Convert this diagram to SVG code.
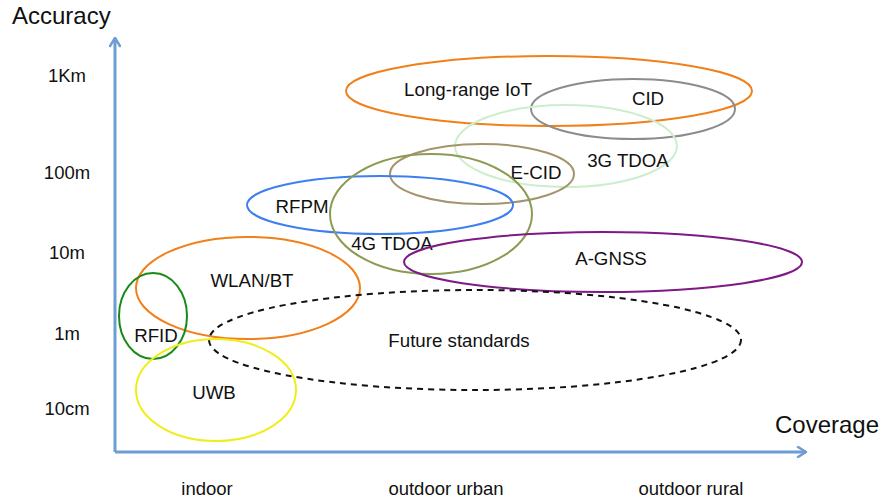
<svg xmlns="http://www.w3.org/2000/svg" width="883" height="500" viewBox="0 0 883 500">
  <defs>
    <marker id="arrow" viewBox="0 0 12 12" refX="10" refY="6" markerWidth="12" markerHeight="12" markerUnits="userSpaceOnUse" orient="auto">
      <path d="M2,1 L10,6 L2,11" fill="none" stroke="#6d9dd2" stroke-width="2.5" stroke-linecap="round" stroke-linejoin="round"/>
    </marker>
  </defs>
  <style>
    text { font-family: "Liberation Sans", Arial, sans-serif; fill: #111; }
    .axis { stroke: #6d9dd2; stroke-width: 3; fill: none; }
    .title { font-size: 24px; }
    .tick text { font-size: 18.5px; text-anchor: middle; dominant-baseline: central; }
    .lbl { font-size: 18.7px; text-anchor: middle; dominant-baseline: central; }
    ellipse { fill: none; stroke-width: 2; }
  </style>
  <rect width="883" height="500" fill="#fff"/>

  <!-- axes -->
  <g id="axes">
    <path class="axis" d="M115,452 L115,38" marker-end="url(#arrow)"/>
    <path class="axis" d="M115,452 L806,452" marker-end="url(#arrow)"/>
    <text class="title" x="12" y="24">Accuracy</text>
    <text class="title" x="775" y="433">Coverage</text>
    <g class="tick">
      <text x="67" y="75">1Km</text>
      <text x="67" y="172">100m</text>
      <text x="67" y="252">10m</text>
      <text x="67" y="333">1m</text>
      <text x="67" y="408">10cm</text>
      <text x="207" y="488">indoor</text>
      <text x="446" y="488">outdoor urban</text>
      <text x="691" y="488">outdoor rural</text>
    </g>
  </g>

  <!-- technology regions -->
  <g id="long-range-iot">
    <ellipse cx="549" cy="91" rx="203" ry="35" stroke="#f0801a"/>
    <text class="lbl" x="468" y="89">Long-range IoT</text>
  </g>
  <g id="cid">
    <ellipse cx="633" cy="109" rx="102" ry="30" stroke="#8c8c8c"/>
    <text class="lbl" x="648" y="98">CID</text>
  </g>
  <g id="tdoa-3g">
    <ellipse cx="566" cy="146" rx="111" ry="41" stroke="#cdeecd"/>
    <text class="lbl" x="628" y="160">3G TDOA</text>
  </g>
  <g id="e-cid">
    <ellipse cx="482" cy="174" rx="92" ry="30" stroke="#a4946c"/>
    <text class="lbl" x="536" y="172">E-CID</text>
  </g>
  <g id="rfpm">
    <ellipse cx="380" cy="205" rx="133" ry="29" stroke="#3d7ff0"/>
    <text class="lbl" x="302" y="206">RFPM</text>
  </g>
  <g id="tdoa-4g">
    <ellipse cx="431" cy="214" rx="101" ry="60" stroke="#8a9b52"/>
    <text class="lbl" x="392" y="243">4G TDOA</text>
  </g>
  <g id="a-gnss">
    <ellipse cx="603" cy="262" rx="199" ry="30" stroke="#7e1a86"/>
    <text class="lbl" x="611" y="258">A-GNSS</text>
  </g>
  <g id="wlan-bt">
    <ellipse cx="248" cy="288" rx="112" ry="51" stroke="#f0801a"/>
    <text class="lbl" x="252" y="280">WLAN/BT</text>
  </g>
  <g id="future-standards">
    <ellipse cx="475" cy="340" rx="266" ry="50" stroke="#111" stroke-width="1.6" stroke-dasharray="6,5"/>
    <text class="lbl" x="459" y="340">Future standards</text>
  </g>
  <g id="rfid">
    <ellipse cx="153" cy="316" rx="34" ry="43" stroke="#178a17"/>
    <text class="lbl" x="156" y="335">RFID</text>
  </g>
  <g id="uwb">
    <ellipse cx="216" cy="390" rx="80" ry="51" stroke="#f0ee1a"/>
    <text class="lbl" x="214" y="392">UWB</text>
  </g>
</svg>
